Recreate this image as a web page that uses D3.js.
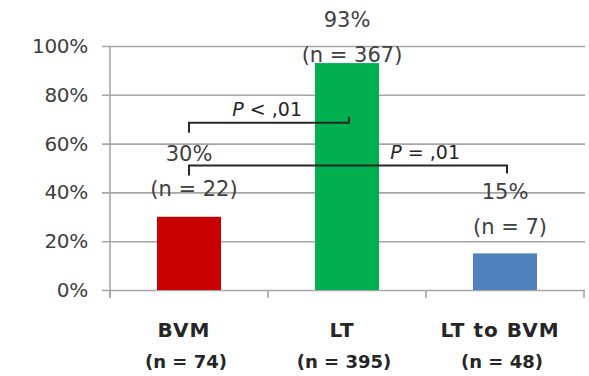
<!DOCTYPE html>
<html>
<head>
<meta charset="utf-8">
<script src="https://cdn.jsdelivr.net/npm/d3@7"></script>
<style>
  html, body { margin: 0; padding: 0; background: #fff; }
  svg { display: block; }
</style>
</head>
<body>
<svg id="chart" width="589" height="376"></svg>
<script>
// ---- data ----
const categories = ["BVM", "LT", "LT to BVM"];
const categoryN = ["(n = 74)", "(n = 395)", "(n = 48)"];
const values = [0.30, 0.93, 0.15];
const valueLabels = ["30%", "93%", "15%"];
const countLabels = ["(n = 22)", "(n = 367)", "(n = 7)"];
const yTicks = [0, 0.2, 0.4, 0.6, 0.8, 1.0];
const bracketFrom = ["BVM", "BVM"];
const bracketTo = ["LT", "LT to BVM"];
const bracketLevel = [0.685, 0.51];
const bracketOp = ["<", "="];
const bracketP = [",01", ",01"];

// ---- style / layout ----
const colors = ["#c80000", "#00b050", "#4f81bd"];
const labelLift = [21, 1, 19];  // px between bar top and "(n = ..)" baseline
const lineGap = 35;
const W = 589, H = 376;
const plot = { left: 110, right: 584, top: 46, bottom: 290 };

const svg = d3.select("#chart");

const x = d3.scaleBand().domain(categories)
  .range([plot.left, plot.right]).paddingInner(0.595).paddingOuter(0.2975);
const y = d3.scaleLinear().domain([0, 1]).range([plot.bottom, plot.top]);

// y axis with grid
const yAxis = d3.axisLeft(y).tickValues(yTicks).tickFormat(d3.format(".0%"))
  .tickSizeInner(-(plot.right - plot.left)).tickSizeOuter(0).tickPadding(22);
const gy = svg.append("g").attr("transform", `translate(${plot.left},0)`).call(yAxis);
gy.select(".domain").remove();
gy.selectAll(".tick line").attr("x1", -8).attr("x2", plot.right - plot.left + 1)
  .attr("stroke", "#a6a6a6").attr("stroke-width", 1.6);
gy.selectAll(".tick text").attr("font-family", "DejaVu Sans").attr("font-size", 20)
  .attr("fill", "#404040").attr("letter-spacing", -0.3);

// vertical axis line
svg.append("line").attr("x1", plot.left).attr("x2", plot.left)
  .attr("y1", plot.top).attr("y2", plot.bottom + 8)
  .attr("stroke", "#a6a6a6").attr("stroke-width", 1.6);

// bottom category tick marks at band boundaries
const boundaries = categories.map(c => x(c) - x.step() * x.paddingInner() / 2)
  .concat([plot.right]);
svg.append("g").selectAll("line").data(boundaries).join("line")
  .attr("x1", d => d).attr("x2", d => d)
  .attr("y1", plot.bottom).attr("y2", plot.bottom + 8)
  .attr("stroke", "#a6a6a6").attr("stroke-width", 1.6);

// bars
svg.append("g").selectAll("rect").data(categories).join("rect")
  .attr("x", d => x(d)).attr("width", x.bandwidth())
  .attr("y", (d, i) => y(values[i]))
  .attr("height", (d, i) => y(0) - y(values[i]))
  .attr("fill", (d, i) => colors[i]);

// value labels
const lab = svg.append("g").attr("font-family", "DejaVu Sans").attr("font-size", 21)
  .attr("fill", "#404040").attr("text-anchor", "middle");
categories.forEach((c, i) => {
  const cx = x(c) + x.bandwidth() / 2;
  const base = y(values[i]) - labelLift[i];
  lab.append("text").attr("x", cx).attr("y", base - lineGap).text(valueLabels[i]);
  lab.append("text").attr("x", cx + 5).attr("y", base).text(countLabels[i]);
});

// significance brackets
const br = svg.append("g");
bracketFrom.forEach((f, i) => {
  const x1 = x(f) + x.bandwidth() / 2;
  const x2 = x(bracketTo[i]) + x.bandwidth() / 2 + 2;
  const yy = y(bracketLevel[i]);
  const rightDir = i === 0 ? -6 : 8;
  br.append("path")
    .attr("d", `M${x1},${yy + 10}V${yy}H${x2}V${yy + rightDir}`)
    .attr("fill", "none").attr("stroke", "#262626").attr("stroke-width", 2);
  const t = br.append("text").attr("x", x2 - 47).attr("y", yy - 7)
    .attr("text-anchor", "end").attr("font-family", "DejaVu Sans")
    .attr("font-size", 19).attr("fill", "#262626");
  t.append("tspan").attr("font-style", "italic").text("P");
  t.append("tspan").text(` ${bracketOp[i]} ${bracketP[i]}`);
});

// category labels
const cl = svg.append("g").attr("font-family", "DejaVu Sans").attr("font-weight", "bold")
  .attr("fill", "#262626").attr("text-anchor", "middle");
categories.forEach((c, i) => {
  const cx = x(c) + x.bandwidth() / 2 - 3;
  cl.append("text").attr("x", cx - 2).attr("y", 337).attr("font-size", 20)
    .attr("letter-spacing", 1).text(c);
  cl.append("text").attr("x", cx).attr("y", 368).attr("font-size", 18).text(categoryN[i]);
});
</script>
</body>
</html>
